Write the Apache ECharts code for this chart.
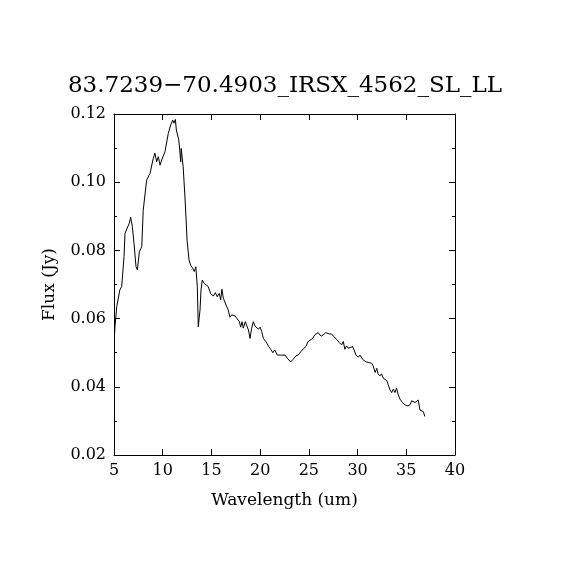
<!DOCTYPE html>
<html>
<head>
<meta charset="utf-8">
<script src="https://cdn.jsdelivr.net/npm/echarts@6/dist/echarts.min.js"></script>
<style>
  html, body { margin: 0; padding: 0; background: #fff; }
  #chart { width: 570px; height: 570px; }
</style>
</head>
<body>
<div id="chart"></div>
<script>
// spectrum
var wavelength = [
  5.05, 5.1, 5.28, 5.6, 5.79, 6.03, 6.13, 6.3, 6.57, 6.71, 6.88, 7.05, 7.26, 7.4, 7.6, 7.85,
  8.0, 8.35, 8.52, 8.7, 8.87, 9.03, 9.2, 9.38, 9.55, 9.72, 9.89, 10.23, 10.57, 10.82, 11.03,
  11.16, 11.3, 11.4, 11.65, 11.75, 11.85, 11.9, 12.1, 12.3, 12.5, 12.7, 12.86, 13.07, 13.24,
  13.4, 13.55, 13.65, 13.83, 13.93, 14.06, 14.26, 14.43, 14.67, 14.91, 15.19, 15.4, 15.6, 15.8,
  15.95, 16.08, 16.22, 16.5, 16.73, 16.9, 17.08, 17.25, 17.42, 17.6, 17.87, 18.0, 18.14, 18.27,
  18.48, 18.6, 18.8, 18.96, 19.13, 19.3, 19.47, 19.65, 19.82, 20.0, 20.16, 20.33, 20.6, 20.85,
  21.08, 21.3, 21.5, 21.76, 22.1, 22.55, 22.78, 23.13, 23.4, 23.68, 23.9, 24.18, 24.42, 24.7,
  24.9, 25.1, 25.39, 25.6, 25.79, 25.95, 26.12, 26.33, 26.53, 26.74, 26.88, 27.09, 27.33, 27.57,
  27.85, 28.12, 28.36, 28.53, 28.7, 28.87, 29.05, 29.22, 29.5, 29.63, 29.84, 30.08, 30.25, 30.53,
  30.87, 31.2, 31.45, 31.6, 31.8, 31.97, 32.1, 32.3, 32.47, 32.64, 32.8, 33.0, 33.15, 33.33,
  33.5, 33.67, 33.84, 34.0, 34.18, 34.35, 34.6, 34.87, 35.1, 35.38, 35.55, 35.72, 35.9, 36.06,
  36.23, 36.4, 36.57, 36.75, 36.9
];
var flux = [
  0.0552, 0.0576, 0.0635, 0.0684, 0.0694, 0.0782, 0.0850, 0.0855, 0.0880, 0.0897, 0.0870, 0.0821, 0.0752, 0.0743, 0.0796, 0.0811,
  0.0918, 0.1006, 0.1011, 0.1026, 0.1031, 0.1070, 0.1085, 0.1060, 0.1075, 0.1050, 0.1065, 0.1089, 0.1143, 0.1168, 0.1182,
  0.1173, 0.1184, 0.1153, 0.1124, 0.1094, 0.1060, 0.1099, 0.1045, 0.0948, 0.0830, 0.0772, 0.0757, 0.0748, 0.0738,
  0.0752, 0.0694, 0.0576, 0.0625, 0.0684, 0.0713, 0.0703, 0.0708, 0.0694, 0.0674, 0.0666, 0.0676, 0.0664, 0.0674,
  0.0655, 0.0686, 0.0660, 0.0640, 0.0625, 0.0604, 0.0611, 0.0613, 0.0608, 0.0601, 0.0591, 0.0575, 0.0591, 0.0572,
  0.0591, 0.0581, 0.0567, 0.0542, 0.0572, 0.0591, 0.0578, 0.0575, 0.0569, 0.0575, 0.0562, 0.0542, 0.0532, 0.0520,
  0.0510, 0.0500, 0.0508, 0.0493, 0.0493, 0.0493, 0.0484, 0.0473, 0.0481, 0.0491, 0.0493, 0.0503, 0.0511, 0.0518,
  0.0532, 0.0537, 0.0542, 0.0552, 0.0555, 0.0559, 0.0552, 0.0549, 0.0552, 0.0559, 0.0562, 0.0555, 0.0555, 0.0547,
  0.0539, 0.0530, 0.0523, 0.0533, 0.0510, 0.0520, 0.0513, 0.0518, 0.0518, 0.0513, 0.0493, 0.0487, 0.0493, 0.0480,
  0.0473, 0.0471, 0.0469, 0.0461, 0.0442, 0.0454, 0.0438, 0.0432, 0.0438, 0.0425, 0.0430, 0.0418, 0.0415, 0.0391,
  0.0383, 0.0393, 0.0383, 0.0396, 0.0376, 0.0364, 0.0354, 0.0347, 0.0344, 0.0347, 0.0359, 0.0364, 0.0354, 0.0352,
  0.0361, 0.0332, 0.0334, 0.0327, 0.0313
];

var titleText = '83.7239\u221270.4903_IRSX_4562_SL_LL';
var xName = 'Wavelength (um)';
var yName = 'Flux (Jy)';

var font = 'DejaVu Serif';

var points = wavelength.map(function (w, i) { return [w, flux[i]]; });

var axisLine = { show: true, onZero: false, lineStyle: { color: '#000', width: 1 } };
var tick = { show: true, inside: true, length: 6, lineStyle: { color: '#000', width: 1 } };
var minor = { show: true, splitNumber: 2, length: 3, lineStyle: { color: '#000', width: 1 } };

var option = {
  animation: false,
  backgroundColor: '#fff',
  title: {
    text: titleText,
    left: 'center',
    top: 70,
    textStyle: { fontFamily: font, fontSize: 23, fontWeight: 'normal', color: '#000' }
  },
  grid: { left: 114, top: 114, right: 115, bottom: 115 },
  xAxis: [{
    type: 'value', min: 5, max: 40, interval: 5,
    name: xName, nameLocation: 'middle', nameGap: 37,
    nameTextStyle: { fontFamily: font, fontSize: 17, color: '#000' },
    axisLine: axisLine, axisTick: tick,
    axisLabel: { fontFamily: font, fontSize: 16, color: '#000', margin: 8 },
    splitLine: { show: false }
  }, {
    type: 'value', min: 5, max: 40, interval: 5, position: 'top',
    axisLine: axisLine, axisTick: tick, axisLabel: { show: false }, splitLine: { show: false }
  }],
  yAxis: [{
    type: 'value', min: 0.02, max: 0.12, interval: 0.02,
    name: yName, nameLocation: 'middle', nameGap: 56,
    nameTextStyle: { fontFamily: font, fontSize: 17, color: '#000' },
    axisLine: axisLine, axisTick: tick, minorTick: minor,
    axisLabel: {
      fontFamily: font, fontSize: 16, color: '#000', margin: 8,
      formatter: function (v) { return v.toFixed(2); }
    },
    splitLine: { show: false }
  }, {
    type: 'value', min: 0.02, max: 0.12, interval: 0.02, position: 'right',
    axisLine: axisLine, axisTick: tick, minorTick: minor,
    axisLabel: { show: false }, splitLine: { show: false }
  }],
  series: [{
    type: 'line',
    data: points,
    showSymbol: false,
    lineStyle: { color: '#000', width: 1 },
    itemStyle: { color: '#000' }
  }]
};

var myChart = echarts.init(document.getElementById('chart'));
myChart.setOption(option);
</script>
</body>
</html>
